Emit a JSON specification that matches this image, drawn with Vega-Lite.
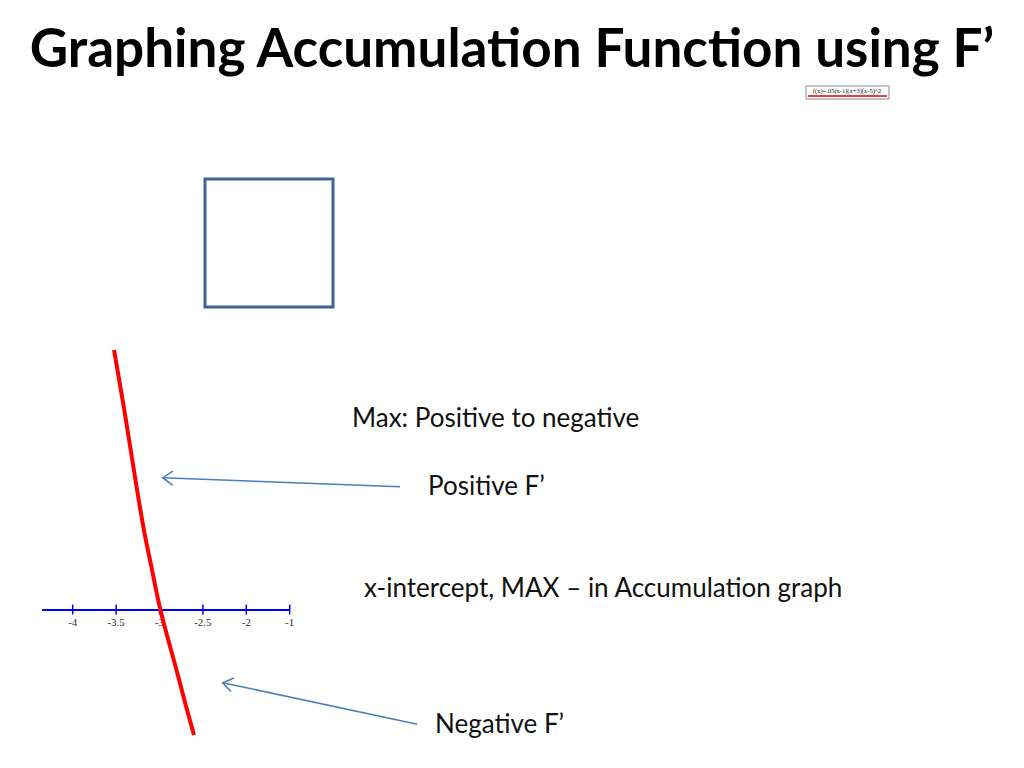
{
  "$schema": "https://vega.github.io/schema/vega-lite/v6.json",
  "width": 1024,
  "height": 768,
  "autosize": {"type": "fit", "contains": "padding"},
  "padding": 0,
  "background": "white",
  "config": {"view": {"stroke": null}},
  "datasets": {
    "curve": [
      {"x": -3.5242, "y": 8.667},
      {"x": -3.409, "y": 6.777},
      {"x": -3.2903, "y": 4.557},
      {"x": -3.167, "y": 2.39},
      {"x": -3.0979, "y": 1.557},
      {"x": -3.0, "y": 0.0},
      {"x": -2.8214, "y": -1.777},
      {"x": -2.7258, "y": -2.89},
      {"x": -2.6025, "y": -4.167}
    ],
    "ticks": [
      {"t": -4, "label": "-4"},
      {"t": -3.5, "label": "-3.5"},
      {"t": -3, "label": "-3"},
      {"t": -2.5, "label": "-2.5"},
      {"t": -2, "label": "-2"},
      {"t": -1.5, "label": "-1"}
    ],
    "axisline": [{"from": -4.3537, "to": -1.4965}],
    "notes": [
      {"x": -0.7823, "y": 6.367, "label": "Max: Positive to negative"},
      {"x": 0.0933, "y": 4.1, "label": "Positive F’"},
      {"x": -0.644, "y": 0.7, "label": "x-intercept, MAX – in Accumulation graph"},
      {"x": 0.174, "y": -3.833, "label": "Negative F’"}
    ],
    "title": [{"x": 1.061, "y": 18.1, "label": "Graphing Accumulation Function using F’"}],
    "arrows": [
      {"tipx": -2.9631, "tipy": 4.41, "tailx": -0.2293, "taily": 4.11, "dir": 2.2},
      {"tipx": -2.2719, "tipy": -2.4233, "tailx": -0.03, "taily": -3.81, "dir": 12.1}
    ],
    "square": [{"x1": -2.4758, "x2": -1.0012, "y1": 14.367, "y2": 10.1}],
    "legendbox": [{"x1": 4.448, "x2": 5.4044, "y1": 17.467, "y2": 17.033}],
    "legendline": [{"x1": 4.4712, "x2": 5.3813, "y": 17.133}],
    "legendtext": [{"x": 4.9205, "y": 17.3, "label": "f(x)=.05(x-1)(x+3)(x-5)^2"}]
  },
  "layer": [
    {
      "data": {"name": "title"},
      "mark": {"type": "text", "font": "Lato", "fontWeight": "bold", "fontSize": 53, "align": "center", "baseline": "alphabetic", "color": "#000000"},
      "encoding": {
        "x": {"field": "x", "type": "quantitative", "scale": {"domain": [-4.8376, 6.9597], "nice": false, "zero": false}, "axis": null},
        "y": {"field": "y", "type": "quantitative", "scale": {"domain": [-5.267, 20.333], "nice": false, "zero": false}, "axis": null},
        "text": {"field": "label"}
      }
    },
    {
      "data": {"name": "legendbox"},
      "mark": {"type": "rect", "fill": "white", "stroke": "#8c8c8c", "strokeWidth": 1},
      "encoding": {
        "x": {"field": "x1", "type": "quantitative"},
        "x2": {"field": "x2"},
        "y": {"field": "y1", "type": "quantitative"},
        "y2": {"field": "y2"}
      }
    },
    {
      "data": {"name": "legendtext"},
      "mark": {"type": "text", "font": "Liberation Serif", "fontSize": 6.5, "align": "center", "baseline": "middle", "color": "#222222"},
      "encoding": {
        "x": {"field": "x", "type": "quantitative"},
        "y": {"field": "y", "type": "quantitative"},
        "text": {"field": "label"}
      }
    },
    {
      "data": {"name": "legendline"},
      "mark": {"type": "rule", "color": "#e00000", "strokeWidth": 1.5},
      "encoding": {
        "x": {"field": "x1", "type": "quantitative"},
        "x2": {"field": "x2"},
        "y": {"field": "y", "type": "quantitative"}
      }
    },
    {
      "data": {"name": "square"},
      "mark": {"type": "rect", "filled": false, "stroke": "#41619b", "strokeWidth": 3},
      "encoding": {
        "x": {"field": "x1", "type": "quantitative"},
        "x2": {"field": "x2"},
        "y": {"field": "y1", "type": "quantitative"},
        "y2": {"field": "y2"}
      }
    },
    {
      "data": {"name": "notes"},
      "mark": {"type": "text", "font": "Lato", "fontSize": 26, "align": "left", "baseline": "middle", "color": "#111111"},
      "encoding": {
        "x": {"field": "x", "type": "quantitative"},
        "y": {"field": "y", "type": "quantitative"},
        "text": {"field": "label"}
      }
    },
    {
      "data": {"name": "axisline"},
      "mark": {"type": "rule", "color": "#0000ff", "strokeWidth": 2},
      "encoding": {
        "x": {"field": "from", "type": "quantitative"},
        "x2": {"field": "to"},
        "y": {"datum": 0, "type": "quantitative"}
      }
    },
    {
      "data": {"name": "ticks"},
      "mark": {"type": "rule", "color": "#0000ff", "strokeWidth": 1.5},
      "encoding": {
        "x": {"field": "t", "type": "quantitative"},
        "y": {"datum": 0.18, "type": "quantitative"},
        "y2": {"datum": -0.15}
      }
    },
    {
      "data": {"name": "ticks"},
      "mark": {"type": "text", "font": "Liberation Serif", "fontSize": 11, "align": "center", "baseline": "middle", "color": "#333333"},
      "encoding": {
        "x": {"field": "t", "type": "quantitative"},
        "y": {"datum": -0.45, "type": "quantitative"},
        "text": {"field": "label"}
      }
    },
    {
      "data": {"name": "curve"},
      "mark": {"type": "line", "color": "#ff0000", "strokeWidth": 4, "interpolate": "basis"},
      "encoding": {
        "x": {"field": "x", "type": "quantitative"},
        "y": {"field": "y", "type": "quantitative"},
        "order": {"field": "x"}
      }
    },
    {
      "data": {"name": "arrows"},
      "mark": {"type": "rule", "color": "#4a7ebb", "strokeWidth": 1.5},
      "encoding": {
        "x": {"field": "tipx", "type": "quantitative"},
        "x2": {"field": "tailx"},
        "y": {"field": "tipy", "type": "quantitative"},
        "y2": {"field": "taily"}
      }
    },
    {
      "data": {"name": "arrows"},
      "mark": {"type": "point", "shape": "M1,-0.7L0,0L1,0.7", "filled": false, "stroke": "#4a7ebb", "strokeWidth": 1.5, "size": 400, "opacity": 1},
      "encoding": {
        "x": {"field": "tipx", "type": "quantitative"},
        "y": {"field": "tipy", "type": "quantitative"},
        "angle": {"field": "dir", "type": "quantitative", "scale": null}
      }
    }
  ]
}
